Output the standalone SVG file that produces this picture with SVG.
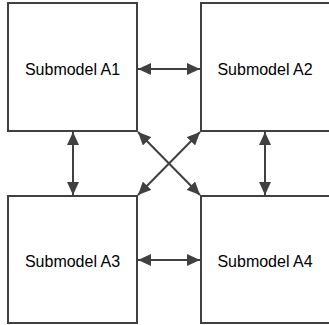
<svg xmlns="http://www.w3.org/2000/svg" width="329" height="325" viewBox="0 0 329 325">
<style>
.box{fill:#fff;stroke:#404040;stroke-width:2}
.lbl{font-family:"Liberation Sans",Arial,sans-serif;font-size:16px;fill:#000;text-anchor:middle}
.conn{stroke:#404040;stroke-width:2;fill:none;marker-start:url(#ah);marker-end:url(#ah)}
</style>
<defs>
<marker id="ah" viewBox="0 0 13 12" refX="13" refY="6" markerWidth="13" markerHeight="12" markerUnits="userSpaceOnUse" orient="auto-start-reverse">
<path d="M0,0 L13,6 L0,12 Z" fill="#404040"/>
</marker>
</defs>
<g id="A1"><rect class="box" x="8" y="3" width="129" height="128"/><text class="lbl" x="72.5" y="74.5">Submodel A1</text></g>
<g id="A2"><rect class="box" x="201" y="3" width="130" height="128"/><text class="lbl" x="265" y="74.5">Submodel A2</text></g>
<g id="A3"><rect class="box" x="8" y="196" width="129" height="127"/><text class="lbl" x="72.5" y="266.5">Submodel A3</text></g>
<g id="A4"><rect class="box" x="201" y="196" width="130" height="127"/><text class="lbl" x="265" y="266.5">Submodel A4</text></g>
<g id="connectors">
<line class="conn" x1="138" y1="69" x2="200" y2="69"/>
<line class="conn" x1="138" y1="260" x2="200" y2="260"/>
<line class="conn" x1="73" y1="132" x2="73" y2="195"/>
<line class="conn" x1="265" y1="132" x2="265" y2="195"/>
<line class="conn" x1="138" y1="132" x2="200" y2="195"/>
<line class="conn" x1="200" y1="132" x2="138" y2="195"/>
</g>
</svg>
